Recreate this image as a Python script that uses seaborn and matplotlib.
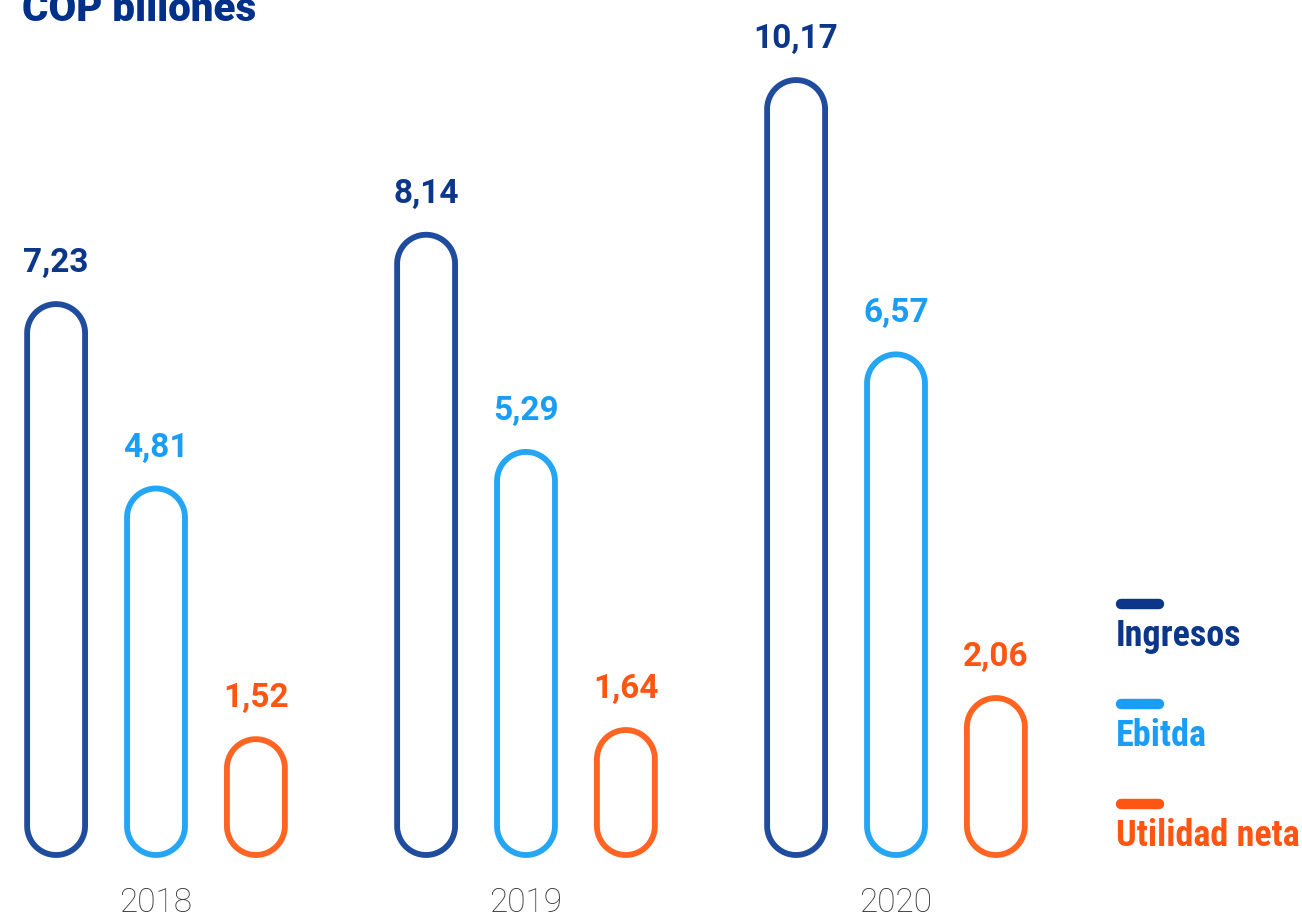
import numpy as np
import pandas as pd
import matplotlib.pyplot as plt
import seaborn as sns
from matplotlib import font_manager
from matplotlib.patches import Polygon
from matplotlib.lines import Line2D

sns.set_theme(style="white")
plt.rcParams['font.family'] = ['Roboto', 'DejaVu Sans']

# Data
years = ["2018", "2019", "2020"]
series = ["Ingresos", "Ebitda", "Utilidad neta"]
ingresos = [7.23, 8.14, 10.17]
ebitda = [4.81, 5.29, 6.57]
utilidad = [1.52, 1.64, 2.06]
title = "COP billones"

bar_colors = ["#1F4C9C", "#25A6F5", "#FF6422"]
text_colors = ["#0B3689", "#1A9EF5", "#FF5512"]
year_color = "#333333"


def first_installed(names):
    for name in names:
        try:
            font_manager.findfont(font_manager.FontProperties(family=name),
                                  fallback_to_default=False)
            return name
        except ValueError:
            continue
    return None


def pill_outline(x, w, h, aspect, n=40):
    """Closed pill shape covering the bar rectangle, with semicircular ends."""
    rx = w / 2
    ry = rx * aspect
    cx = x + rx
    t_top = np.linspace(0, np.pi, n)
    t_bot = np.linspace(np.pi, 2 * np.pi, n)
    top = np.column_stack([cx + rx * np.cos(t_top), h - ry + ry * np.sin(t_top)])
    bot = np.column_stack([cx + rx * np.cos(t_bot), ry + ry * np.sin(t_bot)])
    return np.vstack([top, bot])


df = pd.DataFrame({
    "year": years * 3,
    "serie": [s for s in series for _ in years],
    "value": ingresos + ebitda + utilidad,
})

fig = plt.figure(figsize=(13.02, 9.17), dpi=100)
ax = fig.add_axes([0, 0, 1, 1])

sns.barplot(data=df, x="year", y="value", hue="serie", hue_order=series,
            order=years, palette=bar_colors, width=0.81, gap=0.42,
            legend=False, ax=ax)

# Pixel layout: group spacing 370 px, baseline at 855 px, 76.2 px per unit
px_x, px_y = 370.0, 76.2
ax.set_xlim(-156 / px_x, (1302 - 156) / px_x)
ax.set_ylim(-(917 - 855) / px_y, 855 / px_y)
ax.axis("off")

aspect = px_x / px_y

# Replace flat bars with pill outlines
for container, color, tcolor in zip(ax.containers, bar_colors, text_colors):
    for rect in container:
        x, w, h = rect.get_x(), rect.get_width(), rect.get_height()
        rect.set_visible(False)
        pill = Polygon(pill_outline(x, w, h, aspect), closed=True, fill=False,
                       edgecolor=color, linewidth=4.2, joinstyle="round")
        ax.add_patch(pill)
        ax.annotate(f"{h:.2f}".replace(".", ","), (x + w / 2, h),
                    xytext=(0, 23), textcoords="offset points",
                    ha="center", va="baseline", fontsize=24,
                    fontweight="bold", color=tcolor)

# Year labels
for i, yr in enumerate(years):
    ax.text(i, -(912 - 855) / px_y, yr, ha="center", va="baseline",
            fontsize=24, color=year_color, fontweight="light")

# Title (cut by the top edge as in the source)
fig.text(22 / 1302, 1 - 21 / 917, title, ha="left", va="baseline",
         fontsize=29, fontweight="heavy", color="#00308A")

# Legend: thick rounded stroke above each label
narrow = first_installed(['Roboto Condensed', 'Liberation Sans Narrow',
                          'DejaVu Sans Condensed'])
legend_font = [narrow, 'Roboto', 'DejaVu Sans'] if narrow else ['Roboto', 'DejaVu Sans']
legend_size = 26 if narrow else 22.5
for k, (name, color, tcolor) in enumerate(zip(series, bar_colors, text_colors)):
    y_line = 604 + 100 * k
    fig.add_artist(Line2D([1121 / 1302, 1159 / 1302],
                          [1 - y_line / 917, 1 - y_line / 917],
                          color=tcolor, linewidth=7.5,
                          solid_capstyle="round", transform=fig.transFigure))
    fig.text(1116 / 1302, 1 - (646 + 100 * k) / 917, name, ha="left",
             va="baseline", fontsize=legend_size, fontweight="bold",
             color=tcolor, family=legend_font)

fig.savefig("out.png", dpi=100, facecolor="white")
